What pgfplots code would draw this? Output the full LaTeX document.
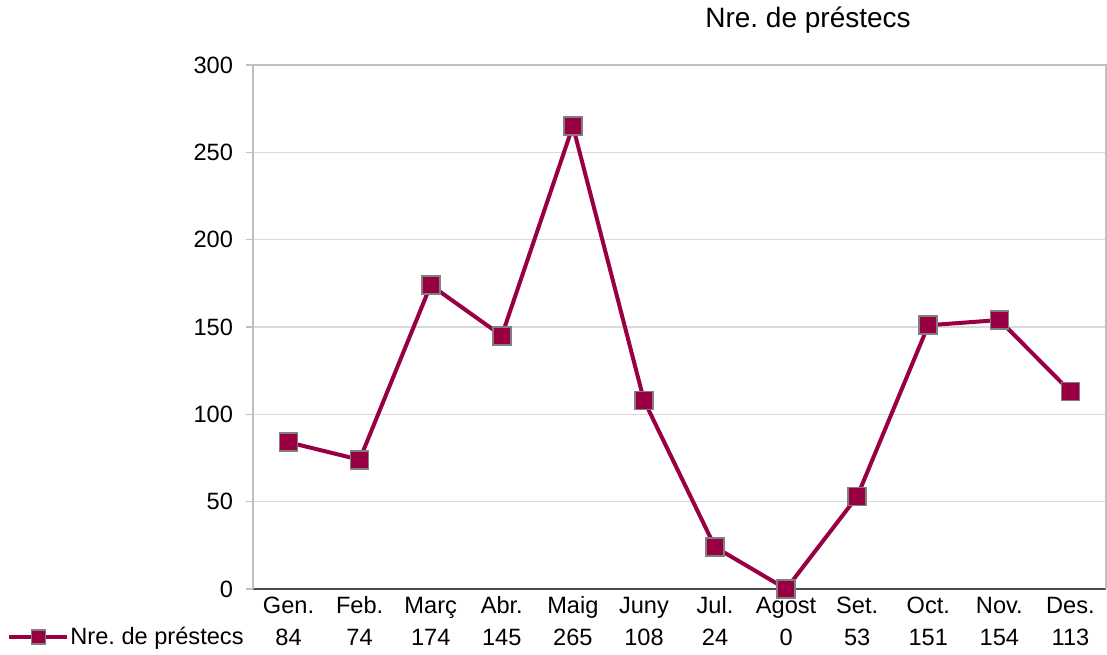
\documentclass[border=0pt]{standalone}
\usepackage{pgfplots}
\pgfplotsset{compat=1.18}
\usepackage{fontspec}
\setmainfont{Liberation Sans}
\frenchspacing
\definecolor{wine}{RGB}{153,0,68}
\definecolor{gridgray}{RGB}{217,217,217}
\definecolor{axgray}{RGB}{191,191,191}
\definecolor{mkgray}{RGB}{128,128,128}
\begin{document}
\begin{tikzpicture}
\useasboundingbox (-126.5pt,-32.5pt) rectangle (427pt,294.5pt);
\begin{axis}[
  at={(0,0)}, anchor=south west,
  scale only axis, width=426.5pt, height=262pt,
  xmin=-0.5, xmax=11.5, ymin=0, ymax=300,
  ytick={0,50,...,300},
  xtick={0,...,11},
  xticklabels={Gen.,Feb.,Març,Abr.,Maig,Juny,Jul.,Agost,Set.,Oct.,Nov.,Des.},
  font=\fontsize{11.8}{13}\selectfont,
  /pgf/number format/assume math mode=true,
  ymajorgrids, major grid style={gridgray, line width=0.6pt},
  axis line style={axgray, line width=0.8pt},
  axis x line*=bottom,
  axis y line*=left,
  x axis line style={black!70, line width=0.6pt},
  ytick style={axgray, line width=0.6pt},
  tick align=outside, major tick length=3.5pt,
  xtick style={draw=none},
  xticklabel style={text height=0.72em, text depth=0.22em, yshift=2pt},
  yticklabel style={xshift=-3pt},
  clip=false,
  legend style={at={(axis description cs:0,0)}, anchor=east, xshift=-4pt, yshift=-24pt,
    draw=none, fill=none, inner sep=0pt, font=\fontsize{11.8}{13}\selectfont,
    nodes={inner sep=0.5pt}},
  legend image code/.code={
    \draw[#1, mark=none] (0pt,0pt) -- (29pt,0pt);
    \draw[#1, only marks, mark size=3.5pt] plot coordinates {(14.5pt,0pt)};
  },
  legend cell align=left,
  /tikz/every odd column/.append style={column sep=0pt},
]
\draw[axgray, line width=0.8pt] (rel axis cs:0,1) -- (rel axis cs:1,1) -- (rel axis cs:1,0);
\addplot[wine, line width=2pt, mark=square*, mark size=4.5pt,
  mark options={fill=wine, draw=mkgray, line width=0.8pt}]
  coordinates {(0,84) (1,74) (2,174) (3,145) (4,265) (5,108) (6,24) (7,0) (8,53) (9,151) (10,154) (11,113)};
\addlegendentry{Nre. de préstecs}
\foreach \i/\v in {0/84,1/74,2/174,3/145,4/265,5/108,6/24,7/0,8/53,9/151,10/154,11/113}{
  \edef\temp{\noexpand\node[font=\noexpand\fontsize{11.8}{13}\noexpand\selectfont] at (axis cs:\i,0) [yshift=-24pt] {\v};}
  \temp
}
\end{axis}
\node[font=\fontsize{14}{16}\selectfont] at (277.5pt,284.5pt) {Nre. de préstecs};
\end{tikzpicture}
\end{document}
